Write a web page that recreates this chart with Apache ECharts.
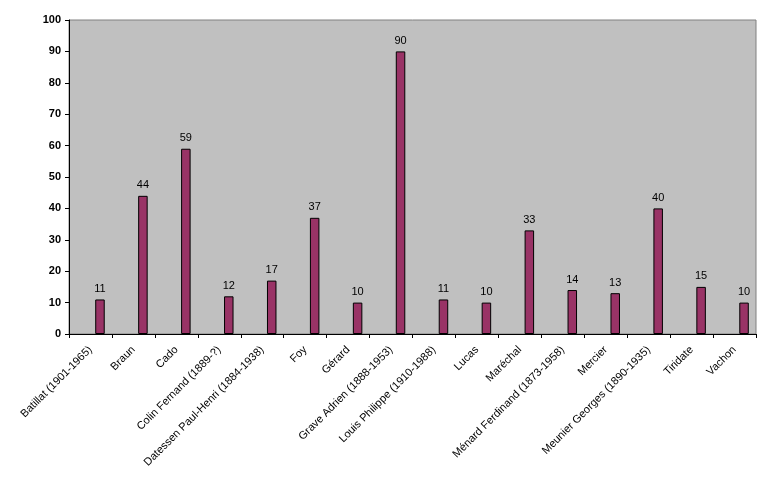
<!DOCTYPE html>
<html lang="fr">
<head>
    <meta charset="UTF-8">
    <title>Chart</title>
    <script src="https://cdn.jsdelivr.net/npm/echarts@6/dist/echarts.min.js"></script>
    <style>
        body { margin: 0; background-color: #ffffff; }
    </style>
</head>
<body>
    <div id="main" style="width: 768px;height:478px;"></div>
    <script type="text/javascript">
        // categories and values
        let names = ["Batillat (1901-1965)", "Braun", "Cado", "Colin Fernand (1889-?)",
            "Datessen Paul-Henri (1884-1938)", "Foy", "Gérard", "Grave Adrien (1888-1953)",
            "Louis Philippe (1910-1988)", "Lucas", "Maréchal", "Ménard Ferdinand (1873-1958)",
            "Mercier", "Meunier Georges (1890-1935)", "Tiridate", "Vachon"];
        let counts = [11, 44, 59, 12, 17, 37, 10, 90, 11, 10, 33, 14, 13, 40, 15, 10];
        let yTicks = [0, 100, 10]; // min, max, step

        let myChart = echarts.init(document.getElementById('main'));

        // the original bar sits in the third slot of the category (two empty series before it)
        let empty = { type: 'bar', data: [], barWidth: 9.5, silent: true };

        let options = {
            animation: false,
            textStyle: { fontFamily: 'Arial, "Liberation Sans", sans-serif' },
            grid: {
                left: 69, right: 12, top: 20, bottom: 144,
                show: true,
                backgroundColor: '#C0C0C0',
                borderColor: '#808080',
                borderWidth: 1
            },
            xAxis: {
                type: 'category',
                data: names,
                axisLine: { lineStyle: { color: '#000', width: 1 } },
                axisTick: { show: true, length: 4, lineStyle: { color: '#000' } },
                axisLabel: {
                    rotate: 45,
                    interval: 0,
                    fontSize: 11,
                    color: '#000',
                    margin: 14
                },
                splitLine: { show: false }
            },
            yAxis: {
                type: 'value',
                min: yTicks[0],
                max: yTicks[1],
                interval: yTicks[2],
                axisLine: { show: true, lineStyle: { color: '#000', width: 1 } },
                axisTick: { show: true, length: 4, lineStyle: { color: '#000' } },
                axisLabel: { fontSize: 11, fontWeight: 'bold', color: '#000', margin: 8 },
                splitLine: { show: false }
            },
            series: [
                empty,
                Object.assign({}, empty),
                {
                    type: 'bar',
                    data: counts,
                    barWidth: 9.5,
                    barGap: '0%',
                    itemStyle: { color: '#993366', borderColor: '#000', borderWidth: 1 },
                    label: { show: true, position: 'top', distance: 5, fontSize: 11, color: '#000' }
                }
            ]
        };

        myChart.setOption(options);
    </script>
</body>
</html>
